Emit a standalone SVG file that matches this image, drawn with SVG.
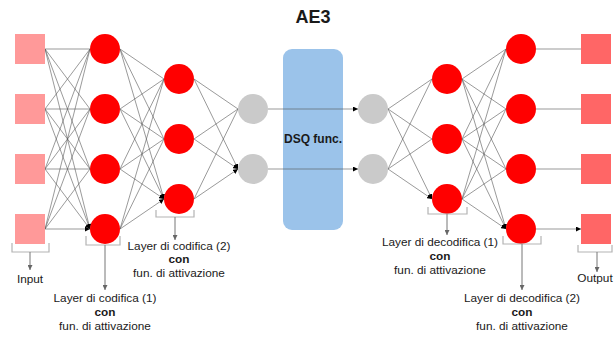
<svg xmlns="http://www.w3.org/2000/svg" width="615" height="338" viewBox="0 0 615 338">
<style>
.e{stroke:#555;stroke-width:0.6;fill:none;marker-end:url(#ah)}
.in{fill:#ff9999}
.out{fill:#ff6666}
.red{fill:#ff0000}
.grey{fill:#cacaca}
.br{stroke:#b3b3b3;stroke-width:1.2;fill:none}
.pa{stroke:#777;stroke-width:1;fill:none;marker-end:url(#ga)}
.t{font-family:"Liberation Sans",Arial,sans-serif;font-size:11.8px;fill:#1a1a1a;text-anchor:middle}
.b{font-weight:bold}
</style>
<defs>
<marker id="ah" viewBox="0 0 10 10" refX="10" refY="5" markerWidth="5" markerHeight="5" markerUnits="userSpaceOnUse" orient="auto"><path d="M0,0 L10,5 L0,10 z" fill="#000"/></marker>
<marker id="ga" viewBox="0 0 10 10" refX="10" refY="5" markerWidth="5" markerHeight="5" markerUnits="userSpaceOnUse" orient="auto"><path d="M0,0 L10,5 L0,10 z" fill="#666"/></marker>
</defs>
<rect width="615" height="338" fill="#fff"/>
<text x="313" y="23" class="t b" style="font-size:18px">AE3</text>
<g id="dsq">
<rect x="283" y="49" width="60" height="181" rx="9" fill="#9bc3ea"/>
<text x="313" y="143" class="t b" style="font-size:12px">DSQ func.</text>
</g>
<g id="connectors">
<path class="e" d="M45,49L90,49M45,49L90,109M45,49L90,169M45,49L90,229"/>
<path class="e" d="M45,109L90,49M45,109L90,109M45,109L90,169M45,109L90,229"/>
<path class="e" d="M45,169L90,49M45,169L90,109M45,169L90,169M45,169L90,229"/>
<path class="e" d="M45,229L90,49M45,229L90,109M45,229L90,169M45,229L90,229"/>
<path class="e" d="M120,49L164,79M120,49L164,139M120,49L164,199"/>
<path class="e" d="M120,109L164,79M120,109L164,139M120,109L164,199"/>
<path class="e" d="M120,169L164,79M120,169L164,139M120,169L164,199"/>
<path class="e" d="M120,229L164,79M120,229L164,139M120,229L164,199"/>
<path class="e" d="M194,79L238,109M194,79L238,169"/>
<path class="e" d="M194,139L238,109M194,139L238,169"/>
<path class="e" d="M194,199L238,109M194,199L238,169"/>
<path class="e" d="M268,109L358,109"/>
<path class="e" d="M268,169L358,169"/>
<path class="e" d="M388,109L432,79M388,109L432,139M388,109L432,199"/>
<path class="e" d="M388,169L432,79M388,169L432,139M388,169L432,199"/>
<path class="e" d="M462,79L506,49M462,79L506,109M462,79L506,169M462,79L506,229"/>
<path class="e" d="M462,139L506,49M462,139L506,109M462,139L506,169M462,139L506,229"/>
<path class="e" d="M462,199L506,49M462,199L506,109M462,199L506,169M462,199L506,229"/>
<path class="e" d="M536,49L581,49M536,109L581,109M536,169L581,169M536,229L581,229"/>
</g>
<g id="input">
<rect class="in" x="15" y="34" width="30" height="30"/>
<rect class="in" x="15" y="94" width="30" height="30"/>
<rect class="in" x="15" y="154" width="30" height="30"/>
<rect class="in" x="15" y="214" width="30" height="30"/>
</g>
<g id="enc1">
<circle class="red" cx="105" cy="49" r="15"/>
<circle class="red" cx="105" cy="109" r="15"/>
<circle class="red" cx="105" cy="169" r="15"/>
<circle class="red" cx="105" cy="229" r="15"/>
</g>
<g id="enc2">
<circle class="red" cx="179" cy="79" r="15"/>
<circle class="red" cx="179" cy="139" r="15"/>
<circle class="red" cx="179" cy="199" r="15"/>
</g>
<g id="latent-in">
<circle class="grey" cx="253" cy="109" r="15"/>
<circle class="grey" cx="253" cy="169" r="15"/>
</g>
<g id="latent-out">
<circle class="grey" cx="373" cy="109" r="15"/>
<circle class="grey" cx="373" cy="169" r="15"/>
</g>
<g id="dec1">
<circle class="red" cx="447" cy="79" r="15"/>
<circle class="red" cx="447" cy="139" r="15"/>
<circle class="red" cx="447" cy="199" r="15"/>
</g>
<g id="dec2">
<circle class="red" cx="521" cy="49" r="15"/>
<circle class="red" cx="521" cy="109" r="15"/>
<circle class="red" cx="521" cy="169" r="15"/>
<circle class="red" cx="521" cy="229" r="15"/>
</g>
<g id="output">
<rect class="out" x="581" y="34" width="30" height="30"/>
<rect class="out" x="581" y="94" width="30" height="30"/>
<rect class="out" x="581" y="154" width="30" height="30"/>
<rect class="out" x="581" y="214" width="30" height="30"/>
</g>
<g id="label-input">
<path class="br" d="M12,243V252H49V243"/>
<path class="pa" d="M30,252V270"/>
<text class="t" x="30" y="283">Input</text>
</g>
<g id="label-enc1">
<path class="br" d="M86,236V245H120V236"/>
<path class="pa" d="M105,245V290"/>
<text class="t" x="105" y="302">Layer di codifica (1)</text>
<text class="t b" x="105" y="316">con</text>
<text class="t" x="105" y="330">fun. di attivazione</text>
</g>
<g id="label-enc2">
<path class="br" d="M156,210V217H194V210"/>
<path class="pa" d="M175,217V240"/>
<text class="t" x="179" y="250">Layer di codifica (2)</text>
<text class="t b" x="179" y="263">con</text>
<text class="t" x="179" y="277">fun. di attivazione</text>
</g>
<g id="label-dec1">
<path class="br" d="M428,207V214H467V207"/>
<path class="pa" d="M447,214V235"/>
<text class="t" x="440" y="246">Layer di decodifica (1)</text>
<text class="t b" x="440" y="260">con</text>
<text class="t" x="440" y="274">fun. di attivazione</text>
</g>
<g id="label-dec2">
<path class="br" d="M503,236V244H541V236"/>
<path class="pa" d="M522,244V290"/>
<text class="t" x="522" y="302">Layer di decodifica (2)</text>
<text class="t b" x="522" y="316">con</text>
<text class="t" x="522" y="330">fun. di attivazione</text>
</g>
<g id="label-output">
<path class="br" d="M578,245V252H612V245"/>
<path class="pa" d="M597,252V272"/>
<text class="t" x="595" y="282">Output</text>
</g>
</svg>
